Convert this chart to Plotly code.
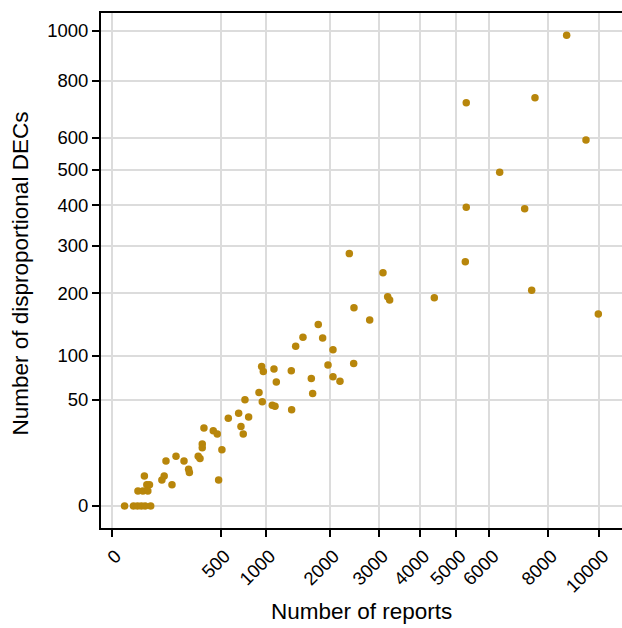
import numpy as np
import plotly.graph_objects as go

reports = [8706, 5288, 7537, 9462, 6332, 5288, 7174, 2375, 3096, 5260,
           7420, 3204, 3250, 4378, 9960, 2469, 2800, 1795, 1539, 1872,
           1424, 2060, 2463, 1968, 946, 967, 1108, 1357, 1676, 2060,
           2192, 1140, 1699, 913, 747, 954, 1085, 1122, 1362, 678,
           789, 572, 703, 728, 358, 434, 469, 511, 345, 345,
           315, 328, 174, 124, 220, 249, 254, 481, 106, 116,
           153, 45, 52, 60, 29, 41, 55, 7, 20, 28, 37, 47, 64]
decs = [981, 720, 738, 593, 493, 395, 391, 282, 241, 264,
        206, 194, 188, 192, 163, 174, 153, 146, 126, 125,
        113, 108, 90, 88, 86, 80, 83, 81, 72, 74,
        69, 68, 56, 57, 50, 48, 45, 44, 41, 38,
        35, 34, 28, 23, 27, 25, 23, 14, 17, 15,
        11, 10, 11, 9, 9, 6, 5, 3, 3, 4,
        2, 4, 2, 2, 1, 1, 1, 0, 0, 0, 0, 0, 0]

x_ticks = [0, 500, 1000, 2000, 3000, 4000, 5000, 6000, 8000, 10000]
y_ticks = [0, 50, 100, 200, 300, 400, 500, 600, 800, 1000]
x_title = "Number of reports"
y_title = "Number of disproportional DECs"

fig = go.Figure()
fig.add_trace(go.Scatter(
    x=np.sqrt(reports), y=np.sqrt(decs), mode="markers",
    marker=dict(color="#B8860B", size=7.5, line=dict(width=0)),
    showlegend=False, hoverinfo="skip"))

font = "Liberation Sans, Arial, Helvetica, sans-serif"
grid = "#DCDCDC"
fig.update_layout(
    width=622, height=628,
    margin=dict(l=101, r=0, t=13, b=100, autoexpand=False),
    paper_bgcolor="white", plot_bgcolor="white",
    font=dict(family=font, color="black"),
    xaxis=dict(
        range=[-2.19, 104.66], automargin=False,
        tickvals=np.sqrt(x_ticks), ticktext=[str(v) for v in x_ticks],
        tickangle=-45, tickfont=dict(size=18.5, color="black"),
        ticklabelshift=4, ticklabelstandoff=1,
        ticks="outside", ticklen=7, tickwidth=2, tickcolor="black",
        showgrid=True, gridcolor=grid, gridwidth=2,
        showline=True, linecolor="black", linewidth=2, mirror=True,
        zeroline=False,
    ),
    yaxis=dict(
        range=[-1.463, 32.80], automargin=False,
        tickvals=np.sqrt(y_ticks), ticktext=[str(v) for v in y_ticks],
        tickfont=dict(size=18.5, color="black"),
        ticks="outside", ticklen=7, tickwidth=2, tickcolor="black",
        showgrid=True, gridcolor=grid, gridwidth=2,
        showline=True, linecolor="black", linewidth=2, mirror=False,
        zeroline=False,
    ),
    annotations=[
        dict(text=x_title, xref="paper", yref="paper", x=0.5, y=0,
             xanchor="center", yanchor="middle", yshift=-83, showarrow=False,
             font=dict(size=22.5, color="black")),
        dict(text=y_title, xref="paper", yref="paper", x=0, y=0.5,
             xanchor="center", yanchor="middle", xshift=-81, yshift=-3,
             textangle=-90, showarrow=False,
             font=dict(size=22.5, color="black")),
    ],
)

fig.write_html("out.html", config={"displayModeBar": False},
               post_script="document.body.style.margin='0px';document.body.style.overflow='hidden';")
